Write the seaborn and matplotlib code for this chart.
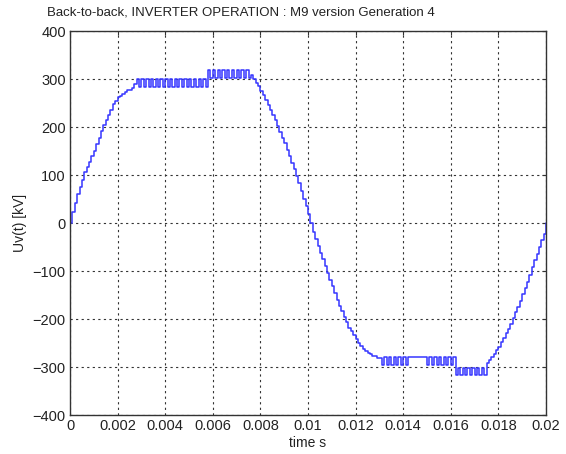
import matplotlib
matplotlib.use("Agg")
import matplotlib.pyplot as plt
import seaborn as sns
import pandas as pd

# time grid (s), 0.1 ms resolution
time_s = [
    0.0000, 0.0001, 0.0002, 0.0003, 0.0004, 0.0005, 0.0006, 0.0007, 0.0008, 0.0009,
    0.0010, 0.0011, 0.0012, 0.0013, 0.0014, 0.0015, 0.0016, 0.0017, 0.0018, 0.0019,
    0.0020, 0.0021, 0.0022, 0.0023, 0.0024, 0.0025, 0.0026, 0.0027, 0.0028, 0.0029,
    0.0030, 0.0031, 0.0032, 0.0033, 0.0034, 0.0035, 0.0036, 0.0037, 0.0038, 0.0039,
    0.0040, 0.0041, 0.0042, 0.0043, 0.0044, 0.0045, 0.0046, 0.0047, 0.0048, 0.0049,
    0.0050, 0.0051, 0.0052, 0.0053, 0.0054, 0.0055, 0.0056, 0.0057, 0.0058, 0.0059,
    0.0060, 0.0061, 0.0062, 0.0063, 0.0064, 0.0065, 0.0066, 0.0067, 0.0068, 0.0069,
    0.0070, 0.0071, 0.0072, 0.0073, 0.0074, 0.0075, 0.0076, 0.0077, 0.0078, 0.0079,
    0.0080, 0.0081, 0.0082, 0.0083, 0.0084, 0.0085, 0.0086, 0.0087, 0.0088, 0.0089,
    0.0090, 0.0091, 0.0092, 0.0093, 0.0094, 0.0095, 0.0096, 0.0097, 0.0098, 0.0099,
    0.0100, 0.0101, 0.0102, 0.0103, 0.0104, 0.0105, 0.0106, 0.0107, 0.0108, 0.0109,
    0.0110, 0.0111, 0.0112, 0.0113, 0.0114, 0.0115, 0.0116, 0.0117, 0.0118, 0.0119,
    0.0120, 0.0121, 0.0122, 0.0123, 0.0124, 0.0125, 0.0126, 0.0127, 0.0128, 0.0129,
    0.0130, 0.0131, 0.0132, 0.0133, 0.0134, 0.0135, 0.0136, 0.0137, 0.0138, 0.0139,
    0.0140, 0.0141, 0.0142, 0.0143, 0.0144, 0.0145, 0.0146, 0.0147, 0.0148, 0.0149,
    0.0150, 0.0151, 0.0152, 0.0153, 0.0154, 0.0155, 0.0156, 0.0157, 0.0158, 0.0159,
    0.0160, 0.0161, 0.0162, 0.0163, 0.0164, 0.0165, 0.0166, 0.0167, 0.0168, 0.0169,
    0.0170, 0.0171, 0.0172, 0.0173, 0.0174, 0.0175, 0.0176, 0.0177, 0.0178, 0.0179,
    0.0180, 0.0181, 0.0182, 0.0183, 0.0184, 0.0185, 0.0186, 0.0187, 0.0188, 0.0189,
    0.0190, 0.0191, 0.0192, 0.0193, 0.0194, 0.0195, 0.0196, 0.0197, 0.0198, 0.0199,
    0.0200,
]

# valve voltage Uv(t) in kV
uv_kv = [
    0, 22, 42, 60, 76, 90, 106, 116, 128, 140,
    150, 164, 178, 192, 204, 214, 226, 236, 248, 254,
    262, 264, 268, 272, 278, 278, 282, 290, 300, 284,
    300, 284, 300, 284, 300, 284, 300, 284, 300, 284,
    300, 284, 300, 284, 300, 284, 300, 284, 300, 284,
    300, 284, 300, 284, 300, 284, 300, 284, 318, 302,
    318, 302, 318, 302, 318, 302, 318, 302, 318, 302,
    318, 302, 318, 302, 318, 302, 308, 300, 292, 286,
    276, 266, 256, 246, 236, 224, 214, 202, 190, 178,
    166, 152, 140, 126, 112, 98, 84, 66, 50, 36,
    18, 0, -18, -34, -48, -62, -76, -90, -104, -118,
    -132, -146, -160, -172, -184, -196, -206, -218, -226, -234,
    -242, -250, -256, -262, -266, -270, -272, -278, -278, -282,
    -282, -296, -280, -296, -280, -296, -280, -296, -280, -296,
    -280, -296, -280, -280, -280, -280, -280, -280, -280, -280,
    -296, -280, -296, -280, -296, -280, -296, -280, -296, -280,
    -296, -280, -316, -302, -316, -302, -316, -302, -316, -302,
    -316, -302, -316, -302, -316, -292, -286, -280, -272, -264,
    -258, -248, -240, -230, -220, -210, -198, -186, -174, -162,
    -148, -136, -122, -108, -92, -78, -64, -50, -36, -22,
    0,
]

x_ticks = [0, 0.002, 0.004, 0.006, 0.008, 0.01, 0.012, 0.014, 0.016, 0.018, 0.02]
x_tick_labels = ["0", "0.002", "0.004", "0.006", "0.008", "0.01", "0.012",
                 "0.014", "0.016", "0.018", "0.02"]
y_ticks = [-400, -300, -200, -100, 0, 100, 200, 300, 400]

df = pd.DataFrame({"t": time_s, "uv": uv_kv})

sns.set_style("white")
plt.rcParams["font.family"] = ["Liberation Sans", "DejaVu Sans"]

fig = plt.figure(figsize=(5.66, 4.54), dpi=100)
ax = fig.add_axes([0.1237, 0.0859, 0.841, 0.8458])

sns.lineplot(data=df, x="t", y="uv", ax=ax, estimator=None, sort=False,
             drawstyle="steps-post", color="#3535ff", linewidth=1.1)

ax.set_xlim(0, 0.02)
ax.set_ylim(-400, 400)
ax.set_xticks(x_ticks)
ax.set_xticklabels(x_tick_labels)
ax.set_yticks(y_ticks)

ax.grid(True, linestyle=(0, (2, 3)), color="#333333", linewidth=0.8)
for s in ax.spines.values():
    s.set_visible(True)
    s.set_color("#333333")
    s.set_linewidth(1.0)

ax.tick_params(axis="both", direction="in", length=3, labelsize=10.5,
               colors="#333333", top=True, right=True, pad=3)
ax.tick_params(axis="both", labelcolor="#222222")

ax.set_xlabel("time s", fontsize=10, color="#222222", labelpad=2)
ax.set_ylabel("Uv(t) [kV]", fontsize=10, color="#222222", labelpad=4)
fig.text(0.426, 0.972, "Back-to-back, INVERTER OPERATION : M9 version Generation 4",
         fontsize=9.5, color="#222222", ha="center", va="center")

fig.savefig("out.png", dpi=100)
